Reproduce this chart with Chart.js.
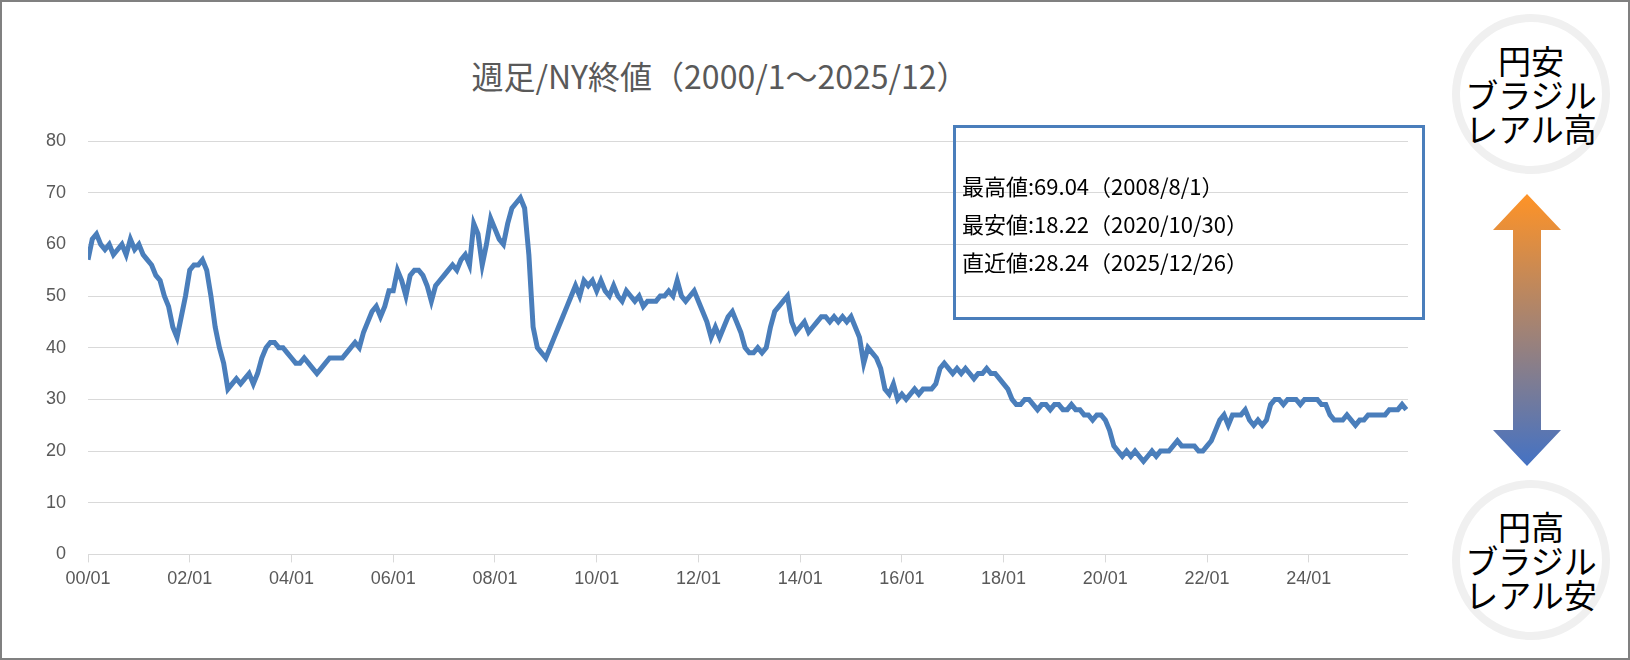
<!DOCTYPE html>
<html><head><meta charset="utf-8">
<script src="https://cdn.jsdelivr.net/npm/chart.js@4"></script>
<style>
body{margin:0;width:1630px;height:660px;overflow:hidden;background:#fff;font-family:"Noto Sans CJK JP",sans-serif}
#frame{position:absolute;left:0;top:0;width:1626px;height:656px;border:2px solid #808080}
#wrap{position:absolute;left:10px;top:40px;width:1398px;height:556px}
#title{position:absolute;left:0;top:52px;width:1440px;text-align:center;font-size:32px;color:#595959}
#box{position:absolute;left:953px;top:125px;width:472px;height:195px;border:3px solid #4a7ebb;font-size:22px;line-height:38px;color:#000;padding:38px 0 0 6px;box-sizing:border-box;font-family:"Noto Sans CJK JP"}
.circ{position:absolute;left:1452px;width:158px;height:160px;border:8px solid #f0f0f0;border-radius:50%;box-sizing:border-box;display:flex;align-items:center;justify-content:center;text-align:center;font-size:33px;line-height:34px;color:#000}
</style></head><body>
<div id="frame"></div>
<div id="title">週足/NY終値（2000/1～2025/12）</div>
<div id="wrap"><canvas id="c"></canvas></div>
<div id="box">最高値:69.04（2008/8/1）<br>最安値:18.22（2020/10/30）<br>直近値:28.24（2025/12/26）</div>
<div class="circ" style="top:14px">円安<br>ブラジル<br>レアル高</div>
<div class="circ" style="top:480px">円高<br>ブラジル<br>レアル安</div>
<svg style="position:absolute;left:1485px;top:190px" width="90" height="280">
<defs><linearGradient id="g" x1="0" y1="0" x2="0" y2="1"><stop offset="0" stop-color="#ff9326"/><stop offset="1" stop-color="#4472c4"/></linearGradient></defs>
<polygon points="42,4 76,40 56,40 56,240 76,240 42,276 8,240 28,240 28,40 8,40" fill="url(#g)"/>
</svg>
<script>
const startYear = 2000;
const yTicks = [0, 10, 20, 30, 40, 50, 60, 70, 80];
// monthly readings, Jan..Dec per year
const values = [
57,61,62,60,59,60,58,59,60,58,61,59,
60,58,57,56,54,53,50,48,44,42,46,50,
55,56,56,57,55,50,44,40,37,32,33,34,
33,34,35,33,35,38,40,41,41,40,40,39,
38,37,37,38,37,36,35,36,37,38,38,38,
38,39,40,41,40,43,45,47,48,46,48,51,
51,55,53,50,54,55,55,54,52,49,52,53,
54,55,56,55,57,58,56,64,62,56,60,65,
63,61,60,64,67,68,69,67,58,44,40,39,
38,40,42,44,46,48,50,52,50,53,52,53,
51,53,51,50,52,50,49,51,50,49,50,48,
49,49,49,50,50,51,50,53,50,49,50,51,
49,47,45,42,44,42,44,46,47,45,43,40,
39,39,40,39,40,44,47,48,49,50,45,43,
44,45,43,44,45,46,46,45,46,45,46,45,
46,44,42,37,40,39,38,36,32,31,33,30,
31,30,31,32,31,32,32,32,33,36,37,36,
35,36,35,36,35,34,35,35,36,35,35,34,
33,32,30,29,29,30,30,29,28,29,29,28,
29,29,28,28,29,28,28,27,27,26,27,27,
26,24,21,20,19,20,19,20,19,18,19,20,
19,20,20,20,21,22,21,21,21,21,20,20,
21,22,24,26,27,25,27,27,27,28,26,25,
26,25,26,29,30,30,29,30,30,30,29,30,
30,30,30,29,29,27,26,26,26,27,26,25,
26,26,27,27,27,27,27,28,28,28,29,28
];
const points = values.map((v, i) => ({x: startYear + i / 12, y: v}));
new Chart(document.getElementById('c'), {
  type: 'line',
  data: { datasets: [{ data: points, borderColor: '#4a7ebb', borderWidth: 5, pointRadius: 0, tension: 0 }] },
  options: {
    responsive: true, maintainAspectRatio: false, animation: false,
    layout: { padding: { top: 101, left: 14 } },
    plugins: { legend: { display: false }, tooltip: { enabled: false } },
    scales: {
      x: {
        type: 'linear', min: 2000, max: 2025.95,
        afterBuildTicks: a => { a.ticks = []; for (let y = 2000; y <= 2024; y += 2) a.ticks.push({value: y}); },
        ticks: { color: '#595959', font: { size: 18 }, maxRotation: 0, padding: 6,
          callback: v => String(v % 100).padStart(2, '0') + '/01' },
        grid: { drawOnChartArea: false, color: '#d9d9d9', tickLength: 8 },
        border: { color: '#d9d9d9' }
      },
      y: {
        min: 0, max: 80,
        afterBuildTicks: a => { a.ticks = yTicks.map(v => ({value: v})); },
        ticks: { color: '#595959', font: { size: 18 }, padding: 22 },
        grid: { color: '#d9d9d9', drawTicks: false },
        border: { display: false }
      }
    }
  }
});
</script>
</body></html>
